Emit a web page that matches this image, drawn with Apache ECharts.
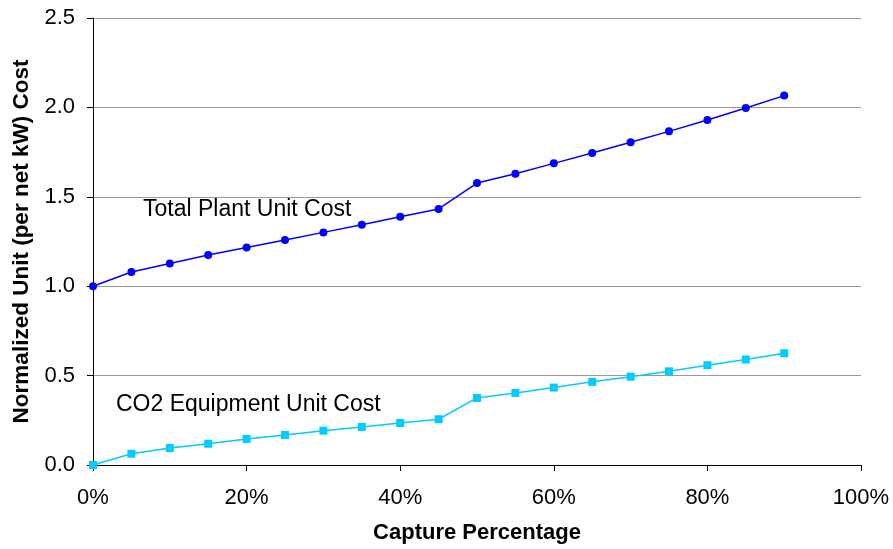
<!DOCTYPE html>
<html><head><meta charset="utf-8">
<script src="https://cdn.jsdelivr.net/npm/echarts@6/dist/echarts.min.js"></script>
<style>html,body{margin:0;padding:0;background:#fff}#c{width:893px;height:549px}</style>
</head><body><div id="c"></div>
<script>
const capture = [0,5,10,15,20,25,30,35,40,45,50,55,60,65,70,75,80,85,90];
const totalPlant = [1.00,1.079,1.127,1.174,1.217,1.258,1.301,1.344,1.389,1.432,1.577,1.629,1.687,1.745,1.805,1.866,1.930,1.997,2.066];
const co2Equip = [0,0.063,0.095,0.119,0.146,0.168,0.192,0.213,0.235,0.256,0.375,0.403,0.433,0.465,0.494,0.524,0.558,0.590,0.625];
const font = 'Liberation Sans, Arial, sans-serif';
const chart = echarts.init(document.getElementById('c'));
chart.setOption({
  animation:false,
  grid:{left:93,right:32,top:18,bottom:84},
  xAxis:{type:'value',min:0,max:100,interval:20,
    name:'Capture Percentage',nameLocation:'middle',nameGap:57,
    nameTextStyle:{fontFamily:font,fontSize:22,fontWeight:'bold',color:'#000'},
    axisLine:{lineStyle:{color:'#000',width:1}},
    axisTick:{show:true,length:6,lineStyle:{color:'#000'}},
    axisLabel:{formatter:'{value}%',fontFamily:font,fontSize:22,color:'#000',margin:22},
    splitLine:{show:false}},
  yAxis:{type:'value',min:0,max:2.5,interval:0.5,
    name:'Normalized Unit (per net kW) Cost',nameLocation:'middle',nameGap:60,
    nameTextStyle:{fontFamily:font,fontSize:22.5,fontWeight:'bold',color:'#000'},
    axisLine:{show:true,lineStyle:{color:'#000',width:1}},
    axisTick:{show:true,length:6,lineStyle:{color:'#000'}},
    axisLabel:{formatter:v=>v.toFixed(1),fontFamily:font,fontSize:22,color:'#000',margin:18},
    splitLine:{show:true,lineStyle:{color:'#999',width:1}}},
  series:[
    {type:'line',data:capture.map((x,i)=>[x,totalPlant[i]]),symbol:'circle',symbolSize:8,
     lineStyle:{color:'#0000FF',width:1.5},itemStyle:{color:'#0000FF'}},
    {type:'line',data:capture.map((x,i)=>[x,co2Equip[i]]),symbol:'rect',symbolSize:8,
     lineStyle:{color:'#00CCFF',width:1.5},itemStyle:{color:'#00CCFF'}}
  ],
  graphic:[
    {type:'text',left:143,top:198,style:{text:'Total Plant Unit Cost',font:'23px '+font,fill:'#000'}},
    {type:'text',left:116,top:393,style:{text:'CO2 Equipment Unit Cost',font:'23px '+font,fill:'#000'}}
  ]
});
</script></body></html>
